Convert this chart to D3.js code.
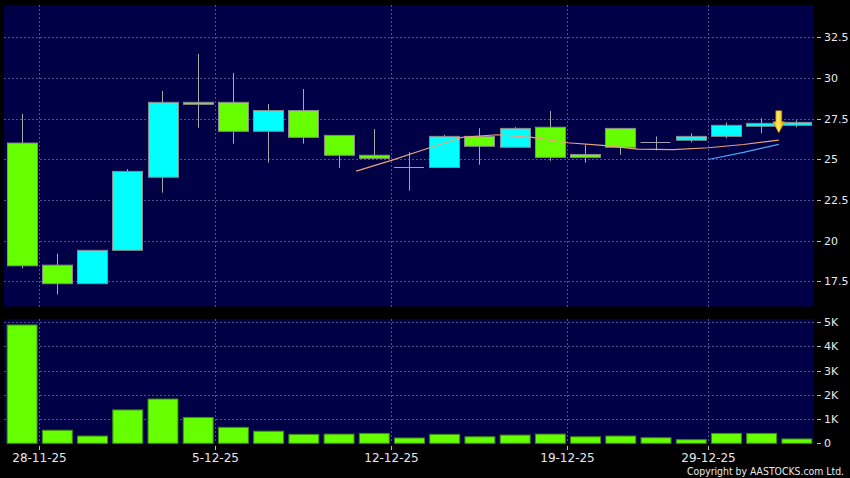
<!DOCTYPE html>
<html>
<head>
<meta charset="utf-8">
<script src="https://cdn.jsdelivr.net/npm/d3@7"></script>
<style>
  html, body { margin: 0; padding: 0; background: #000; }
  svg { display: block; }
  text { font-family: "DejaVu Sans", sans-serif; fill: #e8e8e8; }
</style>
</head>
<body>
<svg id="chart" width="850" height="478"></svg>
<script>
// ---------- data ----------
const dates = ["28-11-25","1-12-25","2-12-25","3-12-25","4-12-25","5-12-25","8-12-25","9-12-25","10-12-25","11-12-25","12-12-25","15-12-25","16-12-25","17-12-25","18-12-25","19-12-25","22-12-25","23-12-25","24-12-25","29-12-25","30-12-25","31-12-25","2-1-26"];
const opens  = [26.0, 18.5, 17.36, 19.41, 23.9, 28.5, 28.5, 26.72, 28.0, 26.47, 25.25, 24.5, 24.5, 26.41, 25.74, 26.97, 25.3, 26.9, 26.04, 26.17, 26.41, 27.03, 27.09];
const highs  = [27.8, 19.2, 19.41, 24.4, 29.2, 31.47, 30.3, 28.4, 29.32, 26.47, 26.86, 25.45, 26.5, 26.92, 26.98, 27.97, 25.92, 26.9, 26.41, 26.6, 27.27, 27.52, 27.4];
const lows   = [18.3, 16.7, 17.36, 19.41, 22.95, 26.94, 25.96, 24.8, 25.96, 24.48, 25.06, 23.07, 24.5, 24.67, 25.74, 24.91, 24.79, 25.28, 25.55, 26.04, 26.29, 26.6, 26.97];
const closes = [18.46, 17.36, 19.41, 24.26, 28.5, 28.38, 26.72, 28.0, 26.35, 25.25, 25.06, 24.5, 26.41, 25.8, 26.9, 25.12, 25.12, 25.74, 26.04, 26.41, 27.09, 27.21, 27.27];
const volumes = [4890, 540, 300, 1380, 1830, 1070, 660, 500, 370, 380, 410, 220, 370, 270, 340, 380, 270, 300, 230, 150, 410, 410, 180];
const ma10Start = 10;
const ma10 = [24.28, 24.94, 25.65, 26.35, 26.51, 26.35, 26.02, 25.86, 25.63, 25.60, 25.71, 25.91, 26.18];
const ma20Start = 20;
const ma20 = [24.99, 25.43, 25.92];
const labelIdx = [0, 5, 10, 15, 19];
const priceTicks = [17.5, 20, 22.5, 25, 27.5, 30, 32.5];
const priceTickLabels = ["17.5", "20", "22.5", "25", "27.5", "30", "32.5"];
const volTicks = [0, 1000, 2000, 3000, 4000, 5000];
const volTickLabels = ["0", "1K", "2K", "3K", "4K", "5K"];
const arrowIndex = 22;
const arrowTipValue = 26.63;
const copyright = "Copyright by AASTOCKS.com Ltd.";

// ---------- layout ----------
const L = 4, R = 814;
const mainTop = 5, mainBottom = 306.5;
const volTop = 319, volBottom = 443.3;
const C = {
  bg: "#000046", grid: "#50508a", up: "#00ffff", down: "#66ff00",
  border: "#8a8a8a", wick: "#a8a8a8", doji: "#a0a0b0",
  ma10: "#eaa27a", ma20: "#4aa6ff", volFill: "#66ff00", volStroke: "#3c8a10"
};

const svg = d3.select("#chart");
svg.append("rect").attr("width", 850).attr("height", 478).attr("fill", "#000");

const idx = d3.range(dates.length);
const x = d3.scaleBand().domain(idx).range([L, R]).paddingInner(0.15).paddingOuter(0.075);
const step = x.step();
const cx = i => x(i) + x.bandwidth() / 2;
const edgeL = i => cx(i) - step / 2;
const edgeR = i => cx(i) + step / 2;

const y = d3.scaleLinear().domain([15.96, 34.48]).range([mainBottom, mainTop]);
const yv = d3.scaleLinear().domain([0, 5136]).range([volBottom, volTop]);

// panels
svg.append("rect").attr("x", L).attr("y", mainTop).attr("width", R - L).attr("height", mainBottom - mainTop).attr("fill", C.bg);
svg.append("rect").attr("x", L).attr("y", volTop).attr("width", R - L).attr("height", volBottom - volTop).attr("fill", C.bg);

// gridlines
const gridG = svg.append("g").attr("stroke", C.grid).attr("stroke-width", 1).attr("stroke-dasharray", "2,2").attr("shape-rendering", "crispEdges");
priceTicks.forEach(v => gridG.append("line").attr("x1", L).attr("x2", R).attr("y1", Math.round(y(v)) + 0.5).attr("y2", Math.round(y(v)) + 0.5));
volTicks.filter(v => v > 0).forEach(v => gridG.append("line").attr("x1", L).attr("x2", R).attr("y1", Math.round(yv(v)) + 0.5).attr("y2", Math.round(yv(v)) + 0.5));
labelIdx.forEach(i => {
  const gx = Math.round(edgeR(i)) + 0.5;
  gridG.append("line").attr("x1", gx).attr("x2", gx).attr("y1", mainTop).attr("y2", mainBottom);
  gridG.append("line").attr("x1", gx).attr("x2", gx).attr("y1", volTop).attr("y2", volBottom);
});

// volume bars
svg.append("g").selectAll("rect").data(idx).join("rect")
  .attr("x", i => x(i) + 0.5).attr("width", x.bandwidth())
  .attr("y", i => yv(volumes[i])).attr("height", i => yv(0) - yv(volumes[i]))
  .attr("fill", C.volFill).attr("stroke", C.volStroke).attr("stroke-width", 1);

// candles
const cg = svg.append("g");
idx.forEach(i => {
  const o = opens[i], c = closes[i], h = highs[i], l = lows[i];
  const xc = Math.round(cx(i)) + 0.5;
  if (o === c) {
    cg.append("line").attr("x1", xc).attr("x2", xc).attr("y1", y(h)).attr("y2", y(l)).attr("stroke", C.doji);
    const yy = Math.round(y(c)) + 0.5;
    cg.append("line").attr("x1", x(i)).attr("x2", x(i) + x.bandwidth()).attr("y1", yy).attr("y2", yy).attr("stroke", C.doji);
    return;
  }
  cg.append("line").attr("x1", xc).attr("x2", xc).attr("y1", y(h)).attr("y2", y(l)).attr("stroke", C.wick);
  const top = y(Math.max(o, c)), bot = y(Math.min(o, c));
  cg.append("rect").attr("x", Math.round(x(i)) + 0.5).attr("width", Math.round(x.bandwidth()))
    .attr("y", top).attr("height", Math.max(bot - top, 2))
    .attr("fill", c > o ? C.up : C.down).attr("stroke", C.border).attr("stroke-width", 1);
});

// moving averages
const line = d3.line().x(d => d[0]).y(d => y(d[1]));
svg.append("path").attr("d", line(ma10.map((v, k) => [edgeL(ma10Start + k), v])))
  .attr("fill", "none").attr("stroke", C.ma10).attr("stroke-width", 1.2);
svg.append("path").attr("d", line(ma20.map((v, k) => [edgeL(ma20Start + k), v])))
  .attr("fill", "none").attr("stroke", C.ma20).attr("stroke-width", 1.2);

// arrow
const defs = svg.append("defs");
const grad = defs.append("linearGradient").attr("id", "ag").attr("x1", 0).attr("x2", 1).attr("y1", 0).attr("y2", 0);
grad.append("stop").attr("offset", "0%").attr("stop-color", "#f0a800");
grad.append("stop").attr("offset", "45%").attr("stop-color", "#fff060");
grad.append("stop").attr("offset", "100%").attr("stop-color", "#e89a00");
const ax = edgeL(arrowIndex), ay = y(arrowTipValue);
const ap = d3.path();
ap.moveTo(ax - 3, ay - 22); ap.lineTo(ax + 3, ay - 22); ap.lineTo(ax + 3, ay - 11);
ap.lineTo(ax + 6, ay - 11); ap.lineTo(ax, ay); ap.lineTo(ax - 6, ay - 11); ap.lineTo(ax - 3, ay - 11); ap.closePath();
svg.append("path").attr("d", ap.toString()).attr("fill", "url(#ag)").attr("stroke", "#c88400").attr("stroke-width", 0.6);

// right axes
const axG = svg.append("g");
priceTicks.forEach((v, k) => {
  const yy = Math.round(y(v)) + 0.5;
  axG.append("line").attr("x1", 817).attr("x2", 821).attr("y1", yy).attr("y2", yy).attr("stroke", "#bbb");
  axG.append("text").attr("x", 824).attr("y", yy).attr("dy", "0.36em").attr("font-size", 11).text(priceTickLabels[k]);
});
volTicks.forEach((v, k) => {
  const yy = Math.round(yv(v)) + 0.5;
  axG.append("line").attr("x1", 817).attr("x2", 821).attr("y1", yy).attr("y2", yy).attr("stroke", "#bbb");
  axG.append("text").attr("x", 824).attr("y", yy).attr("dy", "0.36em").attr("font-size", 11).text(volTickLabels[k]);
});

// bottom axis
labelIdx.forEach(i => {
  const tx = Math.round(edgeR(i)) + 0.5;
  axG.append("line").attr("x1", tx).attr("x2", tx).attr("y1", 446).attr("y2", 450).attr("stroke", "#bbb");
  axG.append("text").attr("x", tx).attr("y", 461.5).attr("text-anchor", "middle").attr("font-size", 12).text(dates[i]);
});

svg.append("text").attr("transform", "translate(687,474.5) scale(0.89,1)").attr("font-size", 10.5).text(copyright);
</script>
</body>
</html>
